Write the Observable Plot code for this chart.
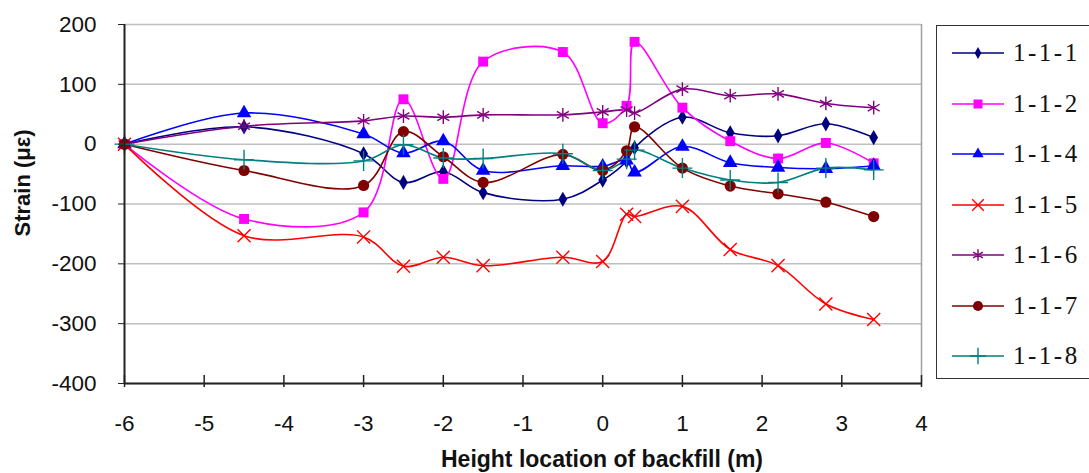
<!DOCTYPE html>
<html>
<head>
<meta charset="utf-8">
<script src="https://cdn.jsdelivr.net/npm/d3@7"></script>
<script src="https://cdn.jsdelivr.net/npm/@observablehq/plot@0.6"></script>
<style>
  html, body { margin: 0; padding: 0; background: #fff; overflow: hidden; }
  #wrap { position: relative; width: 1089px; height: 473px; }
  #legend { position: absolute; left: 936px; top: 25px; width: 170px; height: 354px;
            border: 1.5px solid #333; box-sizing: border-box; background: #fff; }
  .item { position: absolute; left: 0; height: 30px; display: flex; align-items: center; }
  .item span { font-family: "Liberation Serif", serif; font-size: 25px; color: #111; letter-spacing: 2.5px; margin-left: 6px; }
</style>
</head>
<body>
<div id="wrap"><div id="chart"></div><div id="legend"></div></div>
<script>
// ---- data ----
const heights = [-6, -4.5, -3, -2.5, -2, -1.5, -0.5, 0, 0.3, 0.4, 1, 1.6, 2.2, 2.8, 3.4];
const seriesNames = ["1-1-1", "1-1-2", "1-1-4", "1-1-5", "1-1-6", "1-1-7", "1-1-8"];
const s111 = [0, 29, -16, -64, -46, -81, -92, -60, -28, -6, 45, 19, 14, 34, 11];
const s112 = [0, -125, -114, 75, -58, 138, 154, 35, 64, 171, 61, 5, -24, 2, -32];
const s114 = [0, 52, 17, -15, 5, -44, -36, -37, -27, -47, -4, -31, -39, -41, -36];
const s115 = [0, -153, -155, -204, -189, -203, -189, -196, -117, -121, -104, -176, -203, -267, -293];
const s116 = [0, 30, 39, 47, 45, 49, 49, 54, 57, 52, 92, 81, 84, 68, 61];
const s117 = [0, -44, -69, 21, -21, -64, -17, -44, -11, 29, -40, -70, -83, -97, -121];
const s118 = [0, -26, -28, -1, -23, -24, -16, -44, -25, -10, -40, -60, -64, -40, -43];
const xTicks = [-6, -5, -4, -3, -2, -1, 0, 1, 2, 3, 4];
const yTicks = [-400, -300, -200, -100, 0, 100, 200];

const seriesValues = [s111, s112, s114, s115, s116, s117, s118];
const colors = ["#000080", "#FF00FF", "#0000FF", "#FF0000", "#800080", "#800000", "#008080"];
const symbols = ["diamond", "square", "triangle", "times", "asterisk", "circle", "plus"];
const filled = [true, true, true, false, false, true, false];
const radii = [4.6, 5.6, 5.4, 6, 6.5, 5.6, 6.5];

const marks = [];
marks.push(Plot.gridY(yTicks, {stroke: "#c0c0c0", strokeOpacity: 1, strokeWidth: 1.5}));
marks.push(Plot.ruleX([xTicks[xTicks.length - 1]], {stroke: "#a0a0a0", strokeWidth: 1.5}));
seriesValues.forEach((vals, i) => {
  const rows = heights.map((h, j) => ({x: h, y: vals[j]}));
  marks.push(Plot.line(rows, {x: "x", y: "y", curve: "catmull-rom", stroke: colors[i], strokeWidth: 1.6}));
});
seriesValues.forEach((vals, i) => {
  const rows = heights.map((h, j) => ({x: h, y: vals[j]}));
  marks.push(Plot.dot(rows, {x: "x", y: "y", symbol: () => symbols[i], r: radii[i],
    fill: filled[i] ? colors[i] : "none", stroke: filled[i] ? "none" : colors[i], strokeWidth: 1.4}));
});
marks.push(Plot.ruleY([yTicks[0]], {stroke: "#222", strokeWidth: 2}));
marks.push(Plot.ruleX([xTicks[0]], {stroke: "#222", strokeWidth: 2}));
marks.push(Plot.ruleX(xTicks, {y1: yTicks[0], y2: yTicks[0], insetTop: -8, insetBottom: -4, stroke: "#222", strokeWidth: 1.5}));
marks.push(Plot.axisY(yTicks, {tickSize: 6, tickPadding: 22, fontSize: 22.5, tickFormat: d => String(d), stroke: "#222", label: null}));
marks.push(Plot.axisX(xTicks, {tickSize: 0, tickPadding: 32, fontSize: 22.5, tickFormat: d => String(d), label: null}));

const chart = Plot.plot({
  width: 1089, height: 473,
  marginLeft: 124, marginRight: 168, marginTop: 24, marginBottom: 90,
  style: {fontFamily: "'Liberation Sans', Arial, sans-serif", color: "#111", background: "#fff", overflow: "visible"},
  x: {domain: [xTicks[0], xTicks[xTicks.length - 1]]},
  y: {domain: [yTicks[0], yTicks[yTicks.length - 1]]},
  marks
});
document.getElementById("chart").appendChild(chart);

// axis titles as SVG text
const svg = d3.select(chart);
svg.append("text").attr("x", 602).attr("y", 467).attr("text-anchor", "middle")
  .attr("font-family", "'Liberation Sans', Arial, sans-serif").attr("font-weight", "bold")
  .attr("font-size", 23).attr("fill", "#111").text("Height location of backfill (m)");
svg.append("text").attr("transform", "translate(30,183) rotate(-90)").attr("text-anchor", "middle")
  .attr("font-family", "'Liberation Sans', Arial, sans-serif").attr("font-weight", "bold")
  .attr("font-size", 22).attr("fill", "#111").text("Strain (με)");

// legend
const legend = d3.select("#legend");
const symMap = {diamond: d3.symbolDiamond, square: d3.symbolSquare, triangle: d3.symbolTriangle,
  times: d3.symbolTimes, asterisk: d3.symbolAsterisk, circle: d3.symbolCircle, plus: d3.symbolPlus};
seriesNames.forEach((name, i) => {
  const item = legend.append("div").attr("class", "item").style("top", (12 + i * 50.5) + "px");
  const s = item.append("svg").attr("width", 70).attr("height", 30);
  s.append("line").attr("x1", 15).attr("x2", 67).attr("y1", 15).attr("y2", 15)
    .attr("stroke", colors[i]).attr("stroke-width", 1.6);
  const size = [40, 80, 55, 90, 90, 80, 90][i];
  s.append("path").attr("transform", "translate(41,15)")
    .attr("d", d3.symbol(symMap[symbols[i]], size)())
    .attr("fill", filled[i] ? colors[i] : "none").attr("stroke", filled[i] ? "none" : colors[i]).attr("stroke-width", 1.4);
  item.append("span").text(name);
});
</script>
</body>
</html>
